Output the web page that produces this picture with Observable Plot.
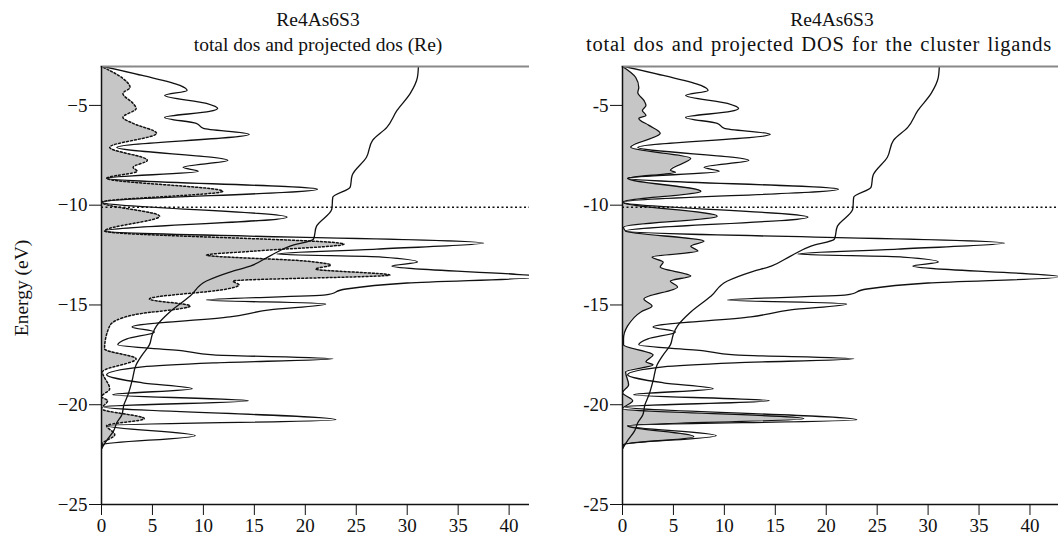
<!DOCTYPE html>
<html><head><meta charset="utf-8">
<script src="https://cdn.jsdelivr.net/npm/d3@7"></script>
<script src="https://cdn.jsdelivr.net/npm/@observablehq/plot@0.6"></script>
<style>
body{margin:0;background:#fff;font-family:"Liberation Serif","Times New Roman",serif;}
#wrap{position:relative;width:1058px;height:538px;overflow:hidden;background:#fff;}
.title{position:absolute;top:7px;width:600px;text-align:center;font-size:19.5px;line-height:25px;color:#111;z-index:2;white-space:nowrap;}
#ylab{position:absolute;left:22px;top:288px;transform:translate(-50%,-50%) rotate(-90deg);font-size:19.5px;white-space:nowrap;color:#111;z-index:2;}
.panel{position:absolute;top:56px;z-index:1;}
</style></head>
<body><div id="wrap">
<div id="p1" class="panel" style="left:0"></div>
<div id="p2" class="panel" style="left:529px"></div>
<div class="title" style="left:18px">Re4As6S3<br>total dos and projected dos (Re)</div>
<div class="title" style="left:532px">Re4As6S3</div>
<div class="title" style="left:519px;top:32px;font-size:20.5px;letter-spacing:0.75px;word-spacing:1.5px">total dos and projected DOS for the cluster ligands</div>
<div id="ylab">Energy (eV)</div>
</div>
<script>
// Total DOS (same in both panels)
const totalE = [-3.05,-3.5,-4.0,-4.25,-4.5,-4.9,-5.15,-5.3,-5.6,-5.9,-6.15,-6.45,-7.1,-7.75,-8.1,-8.3,-8.65,-9.2,-9.85,-10.6,-11.3,-11.9,-12.2,-12.45,-12.6,-12.85,-13.05,-13.6,-13.9,-14.2,-14.5,-14.75,-14.95,-15.25,-15.6,-16.1,-16.35,-16.7,-17.0,-17.3,-17.5,-17.7,-17.9,-18.1,-18.5,-18.9,-19.2,-19.5,-19.8,-20.1,-20.75,-21.05,-21.55,-22.0,-22.2];
const totalDOS = [0.2,4.0,7.7,8.4,6.2,10.3,11.4,10.6,6.2,9.3,10.0,14.5,1.5,12.4,8.0,9.5,0.5,21.2,0.1,18.2,0.3,37.5,27,17.2,27.5,31,28.5,43,30,24,22,10.3,22,16.5,12.6,3.0,5.2,2.5,1.6,8,11,22.7,11,4,0.5,4,8.9,1.1,14.4,0.2,23,0.5,9.2,0.1,0];
// Integrated DOS
const intE = [-22.2,-21.8,-21.3,-20.9,-20.5,-20.0,-19.5,-18.8,-18.0,-17.5,-17.0,-16.45,-16.05,-15.35,-14.55,-13.8,-13.35,-13.05,-12.55,-12.05,-11.7,-11.05,-10.2,-9.6,-9.1,-8.5,-7.6,-6.75,-6.1,-5.25,-4.4,-3.6,-3.05];
const intDOS = [0,0.5,1.2,1.5,2.0,2.2,2.6,3.0,3.4,4.0,4.7,5.0,5.4,6.7,8.7,10.3,12.6,14.6,16.5,18.5,20.8,21.1,22.6,22.7,24.4,24.6,26,26.6,28,29,30.3,31,31.1];
// Projected DOS (Re)
const reE = [-3.05,-3.65,-4.1,-4.4,-4.9,-5.15,-5.6,-5.9,-6.4,-7.1,-7.75,-8.1,-8.3,-8.65,-9.3,-9.85,-10.55,-11.3,-11.95,-12.3,-12.5,-12.8,-13.0,-13.2,-13.5,-13.8,-14.0,-14.2,-14.7,-15.05,-15.5,-16.05,-17.2,-17.7,-18.35,-19.2,-19.6,-19.8,-20.2,-20.7,-21.05,-21.5,-22.0,-22.2];
const reDOS = [0,2.1,2.8,2.1,3.1,3.4,2.1,3.1,5.4,0.8,4.5,3.1,3.5,0.5,11.9,0,5.7,0.3,23.8,15,10.3,20,22.5,21,28.3,12.9,13.5,12.3,4.7,8.7,3.1,0.8,0.3,3.4,0.1,0.8,0,0.6,0,4.2,0.5,1.3,0,0];
// Projected DOS (cluster ligands)
const ligE = [-3.05,-3.6,-4.1,-4.35,-4.75,-5.0,-5.25,-5.5,-5.65,-6.0,-6.4,-7.1,-7.65,-8.25,-8.35,-8.65,-9.3,-9.85,-10.55,-11.1,-11.3,-11.8,-12.05,-12.3,-12.6,-12.85,-13.1,-13.55,-13.8,-14.1,-14.7,-15.05,-15.35,-16.05,-16.7,-17.0,-17.5,-17.85,-18.0,-18.35,-19.0,-19.4,-19.8,-20.2,-20.7,-21.05,-21.6,-22.0,-22.2];
const ligDOS = [0,1.3,1.6,1.5,2.1,2.3,1.95,2.3,1.6,2.6,3.7,0.8,6.7,4.7,5.2,0.5,7.7,0,9.3,0.1,0.3,8,6.7,7.4,2.9,4.0,3.7,6.7,4.7,5.4,2.1,2.9,1.8,0.5,0.1,0.1,3.0,2.3,3.0,0.3,0.6,0,1.0,0,17.8,0.5,7.0,0,0];
const fermiLevel = [-10.1];
const xTicks = [0,5,10,15,20,25,30,35,40];
const yTicks = [-25,-20,-15,-10,-5];

function rows(E, V) {
  return E.map((e, i) => ({e, v: V[i]})).sort((a, b) => a.e - b.e);
}
const total = rows(totalE, totalDOS);
const integ = rows(intE, intDOS);
const re = rows(reE, reDOS);
const lig = rows(ligE, ligDOS);

function panel({proj, dotted, marginLeft, width, xmax, minus}) {
  return Plot.plot({
    width, height: 482,
    marginTop: 10, marginBottom: 34, marginLeft, marginRight: 0,
    style: {fontFamily: "Liberation Serif, Times New Roman, serif", fontSize: "19px", color: "#111", background: "#fff"},
    x: {domain: [0, xmax]},
    y: {domain: [-25, -3.05]},
    marks: [
      Plot.areaX(proj, {x: "v", y: "e", fill: "#c6c6c6", curve: "monotone-y", clip: true}),
      Plot.lineX(proj, {x: "v", y: "e", stroke: "#111", strokeWidth: dotted ? 1.5 : 1.3, strokeDasharray: dotted ? "2,2" : null, curve: "monotone-y", clip: true}),
      Plot.lineX(total, {x: "v", y: "e", stroke: "#111", strokeWidth: 1.3, curve: "monotone-y", clip: true}),
      Plot.lineX(integ, {x: "v", y: "e", stroke: "#111", strokeWidth: 1.3, curve: "monotone-y", clip: true}),
      Plot.ruleY(fermiLevel, {stroke: "#111", strokeWidth: 1.4, strokeDasharray: "2,2.5"}),
      Plot.frame({anchor: "top", stroke: "#888", strokeWidth: 2}),
      Plot.ruleX([0], {stroke: "#111", strokeWidth: 1.5}),
      Plot.ruleY([-25], {stroke: "#111", strokeWidth: 1.5}),
      Plot.axisY({ticks: yTicks, tickSize: 12, tickPadding: 2, label: null, tickFormat: d => (d < 0 ? minus : "") + Math.abs(d)}),
      Plot.axisX({ticks: xTicks, tickSize: 11, tickPadding: 3, label: null, tickFormat: d => String(d)})
    ]
  });
}

document.getElementById("p1").append(panel({proj: re, dotted: true, marginLeft: 101, width: 529, xmax: 42, minus: "\u2212"}));
document.getElementById("p2").append(panel({proj: lig, dotted: false, marginLeft: 93, width: 529, xmax: 42.8, minus: "-"}));
</script>
</body></html>
